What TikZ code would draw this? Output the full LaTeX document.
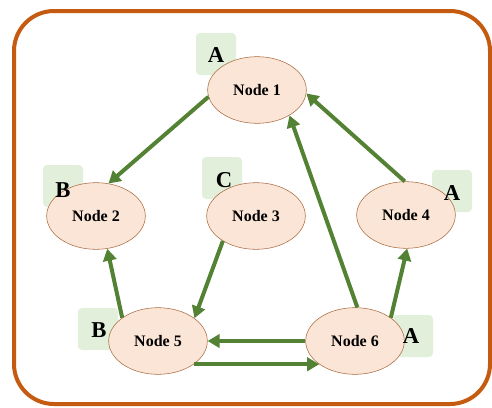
\documentclass[tikz,border=0pt]{standalone}
\usepackage{fontspec}
\setmainfont{Liberation Serif}
\usetikzlibrary{arrows.meta, shapes.geometric}
\definecolor{framebrown}{HTML}{C55A11}
\definecolor{nodefill}{HTML}{FBE5D6}
\definecolor{nodeline}{HTML}{A8683C}
\definecolor{tagfill}{HTML}{E2EFDA}
\definecolor{arrowgreen}{HTML}{548235}
\begin{document}
\begin{tikzpicture}[x = .75pt, y = -.75pt,
  tag/.style = {fill = tagfill, rounded corners = 3pt, minimum width = 30pt, minimum height = 31.5pt, inner sep = 0pt},
  letter/.style = {inner sep = 0pt, font = \fontsize{17}{17}\selectfont\bfseries},
  state/.style = {ellipse, draw = nodeline, fill = nodefill, minimum width = 74pt, minimum height = 50pt, inner sep = 0pt, font = \fontsize{12}{12}\selectfont\bfseries},
  link/.style = {line width = 3pt, draw = arrowgreen, -{Triangle[length = 9pt, width = 10pt]}}]
\useasboundingbox (0,0) rectangle (492,407);
\draw[line width = 3pt, draw = framebrown, rounded corners = 30pt] (14,11) rectangle (490,404);
% tag boxes behind the states
\node[tag] (t1) at (216,54) {};
\node[tag] (t2) at (63,186) {};
\node[tag] (t3) at (222,178) {};
\node[tag] (t4) at (452,191) {};
\node[tag] (t5) at (98,329) {};
\node[tag] (t6) at (413,336) {};
% states
\node[state] (n1) at (257,90) {Node 1};
\node[state] (n2) at (96,216) {Node 2};
\node[state] (n3) at (256,216) {Node 3};
\node[state] (n4) at (406,215) {Node 4};
\node[state] (n5) at (158,341) {Node 5};
\node[state] (n6) at (355,341) {Node 6};
% letters on top
\node[letter] at (216,55) {A};
\node[letter] at (63,190) {B};
\node[letter] at (224,180) {C};
\node[letter] at (452,193) {A};
\node[letter] at (99,330) {B};
\node[letter] at (411,336) {A};
% transitions
\draw[link] (n1.188) -- (n2.69);
\draw[link] (n3.217) -- (n5.32);
\draw[link] (n5.147) -- (n2.289);
\draw[link] (n6.86) -- (n1.322);
\draw[link] (n4.92) -- (n1.356);
\draw[link] (n6.33) -- (n4.272);
\draw[link] (n6.west) -- (n5.east);
\draw[link] (n5.327) -- (n6.213);
\end{tikzpicture}
\end{document}
